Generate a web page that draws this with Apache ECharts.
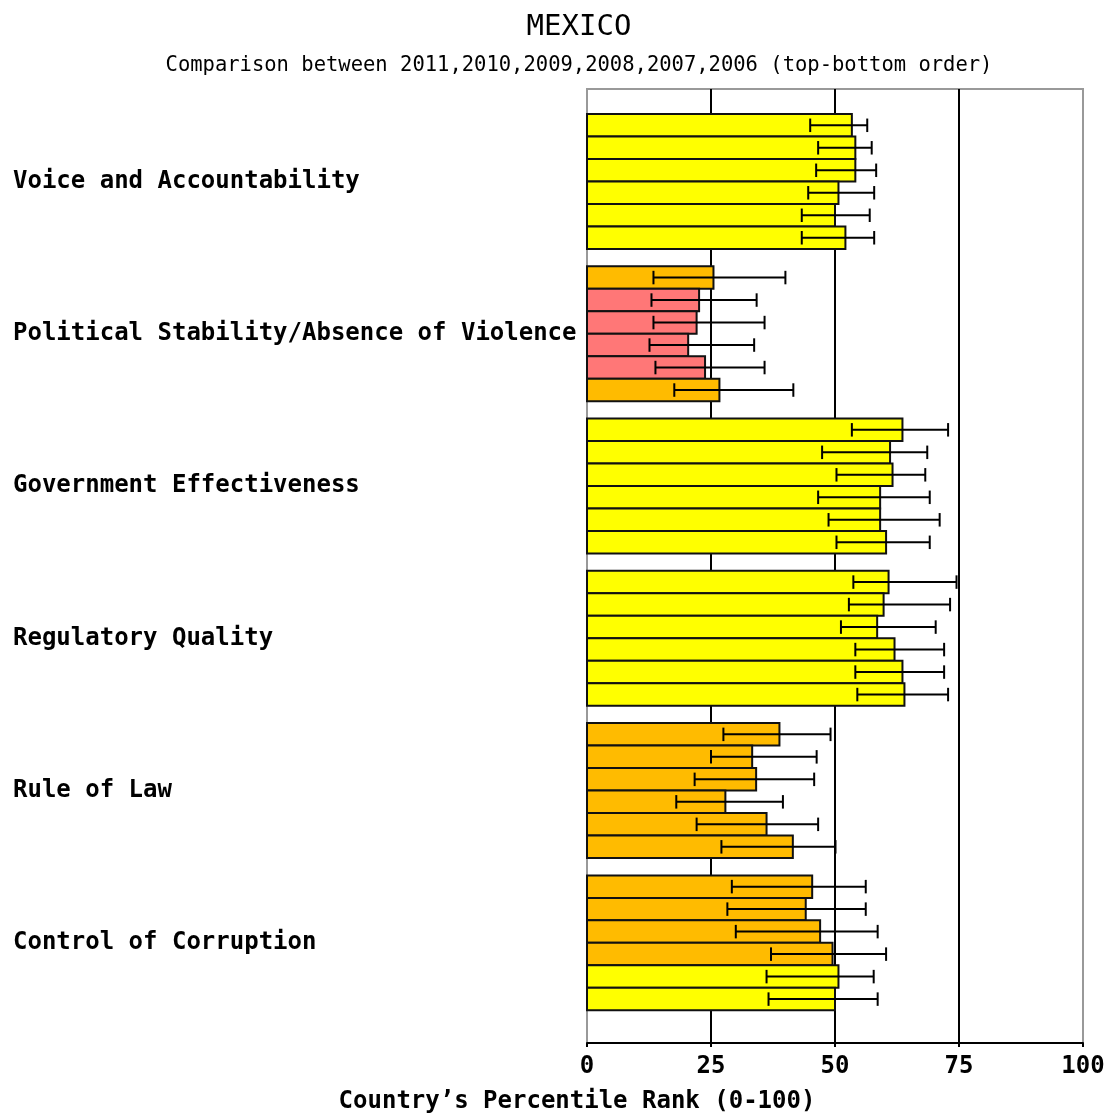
<!DOCTYPE html>
<html>
<head>
<meta charset="utf-8">
<script src="https://cdn.jsdelivr.net/npm/echarts@6/dist/echarts.min.js"></script>
<style>html,body{margin:0;padding:0;background:#fff}#chart{width:1107px;height:1113px}</style>
</head>
<body>
<div id="chart"></div>
<script>
// ---- data ----
const categories = ['Voice and Accountability','Political Stability/Absence of Violence','Government Effectiveness','Regulatory Quality','Rule of Law','Control of Corruption'];
const years = ['2011','2010','2009','2008','2007','2006'];
const xTicks = [0, 25, 50, 75, 100];

const voiceRank = [53.4, 54.1, 54.1, 50.7, 50.0, 52.1];
const voiceLow  = [45.0, 46.6, 46.2, 44.6, 43.3, 43.3];
const voiceHigh = [56.5, 57.4, 58.3, 57.9, 57.0, 57.9];

const stabilityRank = [25.5, 22.6, 22.1, 20.4, 23.8, 26.7];
const stabilityLow  = [13.4, 13.0, 13.4, 12.6, 13.8, 17.6];
const stabilityHigh = [40.0, 34.2, 35.8, 33.7, 35.8, 41.6];

const effectivenessRank = [63.6, 61.1, 61.6, 59.1, 59.1, 60.3];
const effectivenessLow  = [53.4, 47.4, 50.3, 46.6, 48.7, 50.3];
const effectivenessHigh = [72.8, 68.6, 68.2, 69.1, 71.1, 69.1];

const regulatoryRank = [60.8, 59.8, 58.5, 62.0, 63.6, 64.0];
const regulatoryLow  = [53.7, 52.8, 51.2, 54.1, 54.1, 54.5];
const regulatoryHigh = [74.5, 73.2, 70.3, 72.0, 72.0, 72.8];

const lawRank = [38.8, 33.3, 34.1, 27.9, 36.2, 41.5];
const lawLow  = [27.5, 25.0, 21.7, 18.0, 22.1, 27.1];
const lawHigh = [49.1, 46.3, 45.8, 39.5, 46.6, 50.1];

const corruptionRank = [45.4, 44.1, 47.0, 49.5, 50.7, 50.0];
const corruptionLow  = [29.2, 28.3, 30.0, 37.1, 36.2, 36.6];
const corruptionHigh = [56.2, 56.2, 58.6, 60.3, 57.8, 58.6];

// ---- build ----
const ranks = [voiceRank, stabilityRank, effectivenessRank, regulatoryRank, lawRank, corruptionRank];
const lows  = [voiceLow, stabilityLow, effectivenessLow, regulatoryLow, lawLow, corruptionLow];
const highs = [voiceHigh, stabilityHigh, effectivenessHigh, regulatoryHigh, lawHigh, corruptionHigh];

function rankColor(v) {
  if (v < 10) return '#E00000';
  if (v < 25) return '#FF7777';
  if (v < 50) return '#FFBB00';
  if (v < 75) return '#FFFF00';
  if (v < 90) return '#99CC00';
  return '#009900';
}

const items = [];
categories.forEach((c, gi) => {
  years.forEach((y, yi) => {
    items.push([gi, yi, ranks[gi][yi], lows[gi][yi], highs[gi][yi]]);
  });
});

const FONT = '"DejaVu Sans Mono", "Liberation Mono", monospace';
const nYears = years.length;

function renderItem(params, api) {
  const gi = api.value(0), yi = api.value(1);
  const center = api.coord([0, gi]);
  const band = api.size([0, 1])[1];
  const barH = band * 0.8864 / nYears;
  const top = center[1] - barH * nYears / 2 + yi * barH;
  const x0 = center[0];
  const xv = api.coord([api.value(2), gi])[0];
  const xl = api.coord([api.value(3), gi])[0];
  const xh = api.coord([api.value(4), gi])[0];
  const cy = top + barH / 2;
  const cap = barH * 0.3;
  const ls = { stroke: '#000', lineWidth: 2 };
  return {
    type: 'group',
    children: [
      { type: 'rect', shape: { x: x0, y: top, width: xv - x0, height: barH },
        style: { fill: rankColor(api.value(2)), stroke: '#111', lineWidth: 2 } },
      { type: 'line', shape: { x1: xl, y1: cy, x2: xh, y2: cy }, style: ls },
      { type: 'line', shape: { x1: xl, y1: cy - cap, x2: xl, y2: cy + cap }, style: ls },
      { type: 'line', shape: { x1: xh, y1: cy - cap, x2: xh, y2: cy + cap }, style: ls }
    ]
  };
}

const chart = echarts.init(document.getElementById('chart'), null, { renderer: 'canvas' });
chart.setOption({
  animation: false,
  backgroundColor: '#fff',
  graphic: [
    { type: 'text', x: 579, y: 27, style: { text: 'MEXICO', font: '29px ' + FONT, fill: '#000', textAlign: 'center', textVerticalAlign: 'middle' } },
    { type: 'text', x: 579, y: 66, style: { text: 'Comparison between ' + years.join(',') + ' (top-bottom order)', font: '20.5px ' + FONT, fill: '#000', textAlign: 'center', textVerticalAlign: 'middle' } },
    { type: 'text', x: 577, y: 1102, style: { text: 'Country’s Percentile Rank (0-100)', font: 'bold 24px ' + FONT, fill: '#000', textAlign: 'center', textVerticalAlign: 'middle' } }
  ],
  grid: [
    { left: 587, right: 24, top: 105.4, height: 913.6, show: false, containLabel: false, outerBoundsMode: 'none' },
    { left: 587, right: 24, top: 89, bottom: 70, show: true, borderColor: '#999', borderWidth: 2, backgroundColor: 'transparent', containLabel: false, outerBoundsMode: 'none' }
  ],
  xAxis: [
    { gridIndex: 0, type: 'value', min: 0, max: 100, show: false },
    { gridIndex: 1, type: 'value', min: xTicks[0], max: xTicks[xTicks.length - 1], interval: 25,
      axisLine: { show: true, lineStyle: { color: '#000', width: 2 } },
      axisTick: { show: true, length: 4, lineStyle: { color: '#000', width: 2 } },
      axisLabel: { color: '#000', fontFamily: FONT, fontWeight: 'bold', fontSize: 24, margin: 12 },
      splitLine: { show: true, lineStyle: { color: ['#999', '#000', '#000', '#000', '#999'], width: 2 } } }
  ],
  yAxis: [
    { gridIndex: 0, type: 'category', data: categories, inverse: true,
      axisLine: { show: false }, axisTick: { show: false }, splitLine: { show: false },
      axisLabel: { align: 'left', margin: 574, color: '#000', fontFamily: FONT, fontWeight: 'bold', fontSize: 24 } },
    { gridIndex: 1, type: 'value', show: false, min: 0, max: 1 }
  ],
  series: [{
    type: 'custom',
    xAxisIndex: 0, yAxisIndex: 0,
    renderItem: renderItem,
    encode: { x: [2, 3, 4], y: 0 },
    data: items,
    z: 5
  }]
});
</script>
</body>
</html>
